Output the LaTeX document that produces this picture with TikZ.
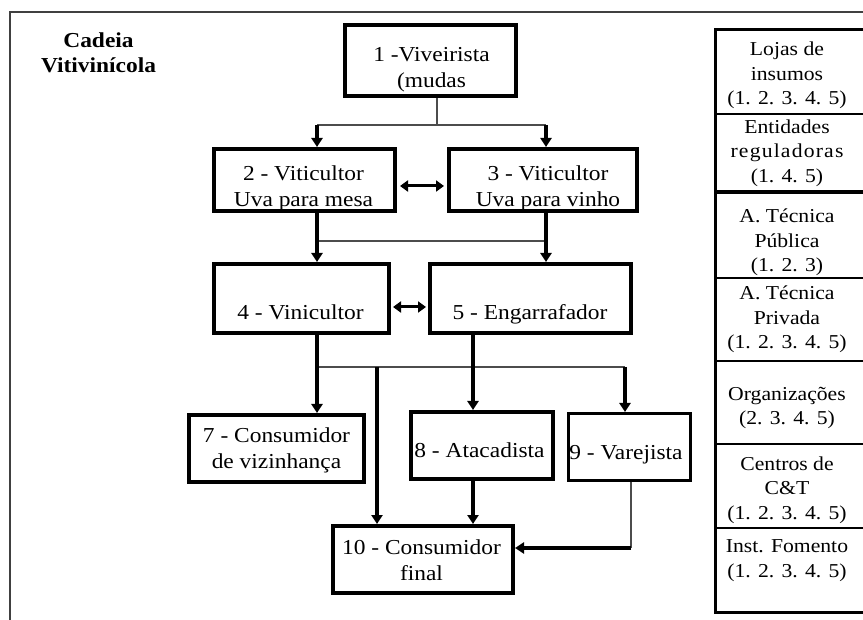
\documentclass[tikz,border=0pt]{standalone}
\usepackage{fontspec}
\setmainfont{Liberation Serif}[FakeStretch=1.1]
\usetikzlibrary{arrows.meta}

\begin{document}
\begin{tikzpicture}[x=1pt,y=-1pt,
  box/.style={draw, line width=4pt, inner sep=0pt},
  txt/.style={font=\fontsize{21.3}{26}\selectfont, align=center, inner sep=0pt,
    text height=14.9pt, text depth=5.3pt},
  titletxt/.style={font=\fontsize{21.3}{25}\selectfont\bfseries, align=center, inner sep=0pt,
    text height=14.9pt, text depth=5.3pt},
  celltxt/.style={font=\fontsize{19.7}{24.5}\selectfont, align=center, inner sep=0pt,
    text height=14pt, text depth=5pt},
  thinlink/.style={line width=1.3pt, draw=black!70},
  flow/.style={line width=4pt, -{Triangle[width=11pt,length=9pt]}},
  twoway/.style={line width=3pt, {Triangle[width=11pt,length=8pt]}-{Triangle[width=11pt,length=8pt]}},
  frame/.style={line width=1.3pt, draw=black!75},
]
\useasboundingbox[fill=white] (0,0) rectangle (863,620);

% outer frame (top and left edges)
\draw[frame] (10,620) -- (10,12) -- (863,12);

% title
\node[titletxt] (title) at (98.5,67.5) {Cadeia\\Vitivinícola};

% chain boxes
\node[box, minimum width=171, minimum height=71] (b1) at (430.5,60.5) {};
\node[box, minimum width=181, minimum height=62] (b2) at (304.5,180) {};
\node[box, minimum width=188, minimum height=62] (b3) at (543,180) {};
\node[box, minimum width=175, minimum height=69] (b4) at (301.5,298.5) {};
\node[box, minimum width=201, minimum height=69] (b5) at (530.5,298.5) {};
\node[box, minimum width=175, minimum height=67] (b7) at (276.5,448.5) {};
\node[box, minimum width=142, minimum height=67] (b8) at (482,445.5) {};
\node[box, line width=3pt, minimum width=122, minimum height=67] (b9) at (629.5,447) {};
\node[box, minimum width=180, minimum height=67] (b10) at (423,559.5) {};

% box labels (placed by the centre of their last line)
\node[txt] (t1) at (431.5,82.5) {1 -Viveirista\\(mudas};
\node[txt] (t2) at (303.5,201.5) {2 - Viticultor\\Uva para mesa};
\node[txt] (t3) at (548,201.5) {3 - Viticultor\\Uva para vinho};
\node[txt] (t4) at (300.5,314.5) {4 - Vinicultor};
\node[txt] (t5) at (530,314.5) {5 - Engarrafador};
\node[txt] (t7) at (276.5,463.5) {7 - Consumidor\\de vizinhança};
\node[txt] (t8) at (479.5,452.5) {8 - Atacadista};
\node[txt] (t9) at (626,454.5) {9 - Varejista};
\node[txt] (t10) at (421.5,575.5) {10 - Consumidor\\final};

% from 1 to 2 and 3
\coordinate (s1) at (437,125);
\coordinate (s1l) at (317,125);
\coordinate (s1r) at (546,125);
\draw[thinlink] (s1 |- b1.south) -- (s1);
\draw[thinlink] (s1l) -- (s1r);
\draw[flow] (s1l) -- (s1l |- b2.north);
\draw[flow] (s1r) -- (s1r |- b3.north);
\draw[twoway, shorten <=3pt, shorten >=3pt] ([yshift=-6pt]b2.east) -- ([yshift=-6pt]b3.west);

% from 2 and 3 to 4 and 5
\coordinate (s2l) at (317,241);
\coordinate (s2r) at (546,241);
\draw[thinlink] (s2l) -- (s2r);
\draw[flow] (s2l |- b2.south) -- (s2l |- b4.north);
\draw[flow] (s2r |- b3.south) -- (s2r |- b5.north);
\draw[twoway, shorten <=2pt, shorten >=2pt] ([yshift=-8.5pt]b4.east) -- ([yshift=-8.5pt]b5.west);

% distribution
\coordinate (s3l) at (317,367);
\coordinate (s3c) at (377,367);
\coordinate (s3m) at (473,367);
\coordinate (s3r) at (625,367);
\draw[thinlink] (s3l) -- (s3r);
\draw[flow] (s3l |- b4.south) -- (s3l |- b7.north);
\draw[flow] (s3c) -- (s3c |- b10.north);
\draw[flow] (s3m |- b5.south) -- (s3m |- b8.north);
\draw[flow] (s3r) -- (s3r |- b9.north);
\draw[flow] (s3m |- b8.south) -- (s3m |- b10.north);
\coordinate (k9) at (631,548);
\draw[thinlink] (k9 |- b9.south) -- (k9);
\draw[flow] (k9) -- (k9 -| b10.east);

% side table of support institutions
\draw[line width=3pt] (863,30) -- (715,30) -- (715,612) -- (863,612);
\foreach \yy/\ww in {114/1.2, 192/3.5, 278/1.7, 361/2.3, 444/1.7, 528/1.7}
  \draw[line width=\ww pt] (715,\yy) -- (863,\yy);

\node[celltxt] (c1) at (787,100.5) {Lojas de\\insumos\\(1. 2. 3. 4. 5)};
\node[celltxt] (c2) at (787,178) {Entidades\\{\addfontfeature{LetterSpace=6}reguladoras}\\(1. 4. 5)};
\node[celltxt] (c3) at (787,267.5) {A. Técnica\\Pública\\(1. 2. 3)};
\node[celltxt] (c4) at (787,344.5) {A. Técnica\\Privada\\(1. 2. 3. 4. 5)};
\node[celltxt] (c5) at (787,420.5) {Organizações\\(2. 3. 4. 5)};
\node[celltxt] (c6) at (787,514.5) {Centros de\\C\&T\\(1. 2. 3. 4. 5)};
\node[celltxt] (c7) at (787,572.5) {Inst. Fomento\\(1. 2. 3. 4. 5)};
\end{tikzpicture}
\end{document}
